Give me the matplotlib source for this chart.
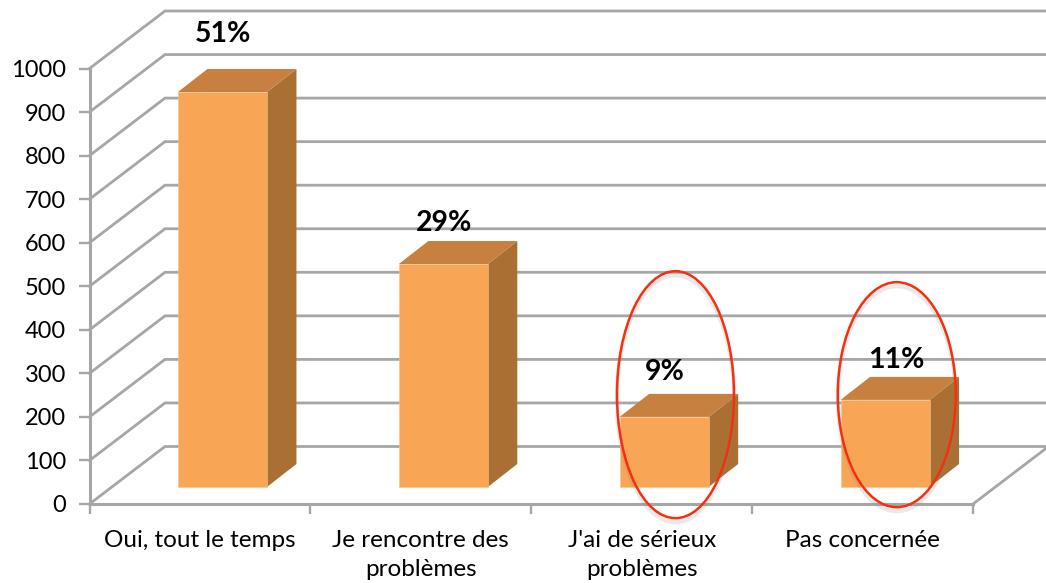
import matplotlib
matplotlib.use('Agg')
import matplotlib.pyplot as plt
from matplotlib.patches import Polygon, Ellipse, Rectangle

categories = ["Oui, tout le temps", "Je rencontre des\nproblèmes",
              "J'ai de sérieux\nproblèmes", "Pas concernée"]
values = [907, 512, 161, 200]
percents = ["51%", "29%", "9%", "11%"]
y_ticks = [0, 100, 200, 300, 400, 500, 600, 700, 800, 900, 1000]

W, H = 1046, 583
plt.rcParams['font.family'] = ['Lato', 'DejaVu Sans']

fig = plt.figure(figsize=(W / 100, H / 100), dpi=100)
ax = fig.add_axes([89.5 / W, (H - 504) / H, 883.5 / W, 435.5 / H])
ax.set_xlim(0, 4)
ax.set_ylim(0, 1000)

# pixel -> data scale
sx = 4 / 883.5
sy = 1000 / 435.5

grey = '#a6a6a6'
for s in ['top', 'right']:
    ax.spines[s].set_visible(False)
for s in ['left', 'bottom']:
    ax.spines[s].set_color(grey)
    ax.spines[s].set_linewidth(2.2)
    ax.spines[s].set_zorder(2)

ax.set_yticks(y_ticks)
ax.set_xticks(range(5))
ax.set_xticklabels([])
ax.set_xticks([i + 0.5 for i in range(4)], categories, minor=True)
ax.tick_params(axis='y', length=8, width=1.7, color=grey, labelsize=17, pad=9, labelcolor='black')
ax.tick_params(axis='x', which='major', length=7, width=1.7, color=grey)
ax.tick_params(axis='x', which='minor', length=0, labelsize=17.5, pad=19)
for lab in ax.get_xticklabels(minor=True):
    lab.set_linespacing(1.45)

# back wall and side wall grid
wall_dx = 75.5 * sx
wall_dy = 57.5 * sy
for v in y_ticks:
    ax.plot([0, wall_dx, 4.4], [v, v + wall_dy, v + wall_dy], color=grey, lw=2,
            clip_on=False, zorder=1, solid_joinstyle='miter')
ax.plot([4, 4 + wall_dx], [0, wall_dy], color=grey, lw=2, clip_on=False, zorder=1)

# 3d bars
bar_w = 89 * sx
bar_shift = 22.5 * sx
base = 17 * sy
dx = 29.5 * sx
dy = 23 * sy
front = '#f9a556'
top = '#c7803f'
side = '#aa7033'
edge = '#f8c08a'
for i, v in enumerate(values):
    x0 = i + 0.5 + bar_shift - bar_w / 2
    x1 = x0 + bar_w
    y0 = base
    y1 = base + v
    ax.add_patch(Polygon([(x1, y0), (x1 + dx, y0 + dy), (x1 + dx, y1 + dy), (x1, y1)],
                         fc=side, ec='none', clip_on=False, zorder=3))
    ax.add_patch(Polygon([(x0, y1), (x0 + dx, y1 + dy), (x1 + dx, y1 + dy), (x1, y1)],
                         fc=top, ec='none', clip_on=False, zorder=3))
    ax.add_patch(Rectangle((x0, y0), bar_w, v, fc=front, ec=edge, lw=0.4,
                           clip_on=False, zorder=4))

# percent labels
label_dy = [58, 41, 45, 40]
label_dx = [1, 1, 1, 11]
for i, p in enumerate(percents):
    lx = i + 0.5 + bar_shift + label_dx[i] * sx
    ly = base + values[i] + label_dy[i] * sy
    ax.text(lx, ly, p, ha='center', va='center', fontsize=20.5, fontweight='bold',
            color='black', clip_on=False, zorder=6)

# red circles
for cx, cy, w, h in [(2.653, 251, 117 * sx, 247 * sy), (3.655, 251, 118 * sx, 225 * sy)]:
    ax.add_patch(Ellipse((cx, cy - 4 * sy), w, h, fc='none', ec='#888888', alpha=0.18, lw=3,
                         clip_on=False, zorder=5))
    ax.add_patch(Ellipse((cx, cy), w, h, fc='none', ec='#f5300f', lw=1.8,
                         clip_on=False, zorder=5))

fig.savefig('out.png', dpi=100)
